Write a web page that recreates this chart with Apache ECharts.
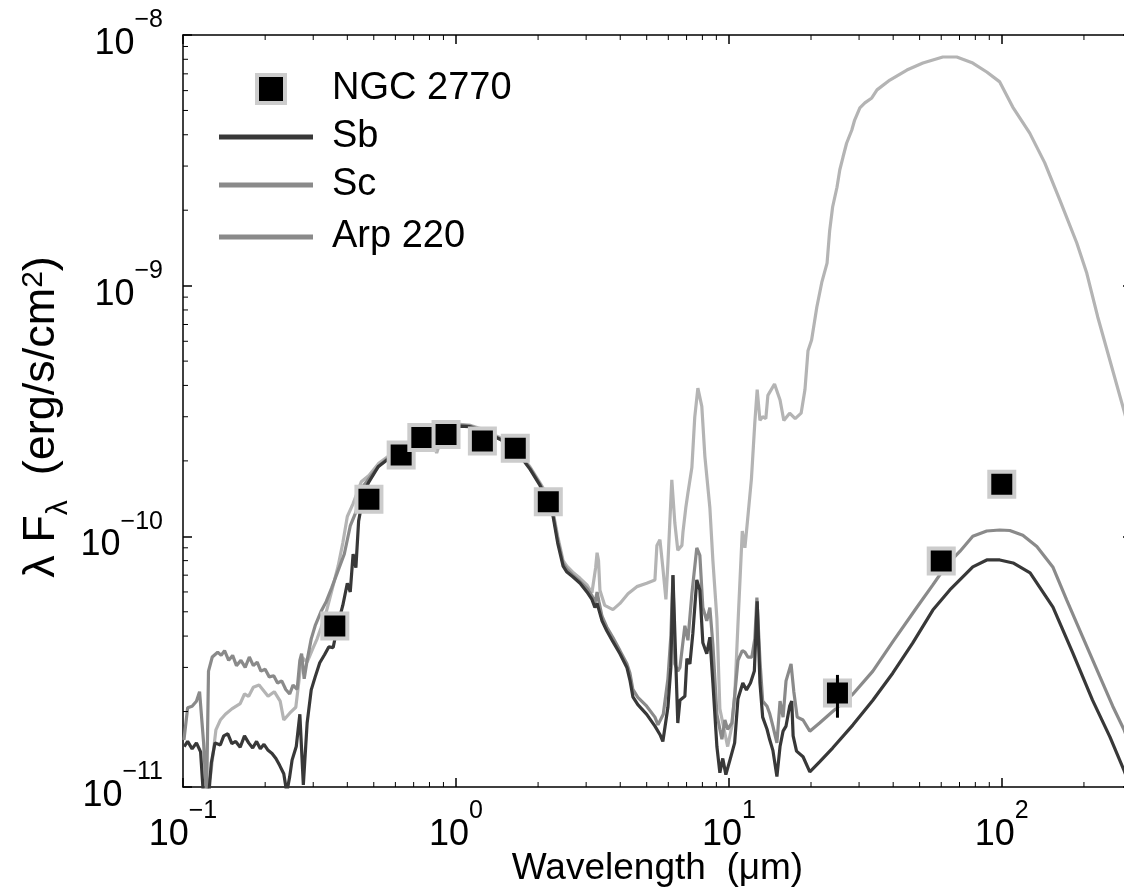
<!DOCTYPE html>
<html>
<head>
<meta charset="utf-8">
<script src="https://cdn.jsdelivr.net/npm/echarts@6/dist/echarts.min.js"></script>
<style>html,body{margin:0;padding:0;background:#fff}#chart{width:1124px;height:888px}</style>
</head>
<body>
<div id="chart"></div>
<script>
// ---------------- data ----------------
const xRange = [0.1, 300];
const yRange = [1e-11, 1e-8];

const ngcLam  = [0.36, 0.48, 0.63, 0.75, 0.92, 1.25, 1.65, 2.18, 25, 60, 100];
const ngcFlux = [4.39e-11, 1.405e-10, 2.11e-10, 2.48e-10, 2.55e-10, 2.40e-10, 2.245e-10, 1.374e-10, 2.37e-11, 7.97e-11, 1.613e-10];
const ngcErrLow  = [4.39e-11, 1.405e-10, 2.11e-10, 2.48e-10, 2.55e-10, 2.40e-10, 2.245e-10, 1.374e-10, 1.89e-11, 7.97e-11, 1.613e-10];
const ngcErrHigh = [4.39e-11, 1.405e-10, 2.11e-10, 2.48e-10, 2.55e-10, 2.40e-10, 2.245e-10, 1.374e-10, 2.80e-11, 7.97e-11, 1.613e-10];

const sbSpectrum = [
[0.101,1.45e-11],[0.104,1.52e-11],[0.108,1.42e-11],[0.112,1.50e-11],[0.116,1.38e-11],[0.119,0.9e-11],[0.124,0.9e-11],[0.127,1.25e-11],
[0.131,1.50e-11],[0.137,1.47e-11],[0.141,1.60e-11],[0.146,1.63e-11],[0.151,1.49e-11],[0.156,1.52e-11],[0.162,1.44e-11],[0.168,1.60e-11],
[0.174,1.50e-11],[0.180,1.43e-11],[0.186,1.52e-11],[0.192,1.42e-11],[0.198,1.48e-11],[0.205,1.40e-11],[0.212,1.36e-11],[0.219,1.30e-11],
[0.226,1.22e-11],[0.234,1.13e-11],[0.240,0.95e-11],[0.246,1.10e-11],[0.251,1.28e-11],[0.260,1.45e-11],[0.268,1.95e-11],[0.276,1.02e-11],
[0.285,1.80e-11],[0.295,2.44e-11],[0.305,2.75e-11],[0.317,3.13e-11],[0.330,3.37e-11],[0.342,3.62e-11],[0.355,3.6e-11],[0.37,4.5e-11],
[0.385,5.3e-11],[0.40,6.5e-11],[0.41,6.0e-11],[0.42,8.5e-11],[0.43,7.5e-11],[0.44,11.5e-11],[0.46,15.0e-11],[0.48,16.5e-11],
[0.52,19.0e-11],[0.57,20.5e-11],[0.62,21.5e-11],[0.68,23.0e-11],[0.74,24.0e-11],[0.80,25.0e-11],[0.87,26.0e-11],[0.95,26.8e-11],
[1.03,27.5e-11],[1.12,27.4e-11],[1.22,26.6e-11],[1.33,25.5e-11],[1.45,24.4e-11],[1.58,22.9e-11],[1.72,20.9e-11],[1.87,18.5e-11],
[2.03,16.0e-11],[2.17,13.9e-11],[2.27,12.0e-11],[2.36,9.4e-11],[2.47,7.6e-11],[2.55,7.2e-11],[2.68,6.9e-11],[2.85,6.5e-11],
[3.02,6.0e-11],[3.15,5.6e-11],[3.23,5.2e-11],[3.29,5.4e-11],[3.43,4.6e-11],[3.57,4.2e-11],[3.76,3.8e-11],[3.99,3.4e-11],
[4.23,3.0e-11],[4.34,2.67e-11],[4.45,2.29e-11],[4.64,2.13e-11],[5.0,1.95e-11],[5.36,1.75e-11],[5.59,1.62e-11],[5.73,1.52e-11],
[5.98,2.08e-11],[6.13,3.0e-11],[6.24,7.0e-11],[6.5,1.8e-11],[6.62,2.22e-11],[6.9,2.3e-11],[7.02,3.25e-11],[7.2,3.1e-11],
[7.38,4.1e-11],[7.63,6.7e-11],[7.83,6.1e-11],[8.03,3.76e-11],[8.3,3.4e-11],[8.52,3.96e-11],[8.74,2.6e-11],[9.04,1.45e-11],
[9.27,1.14e-11],[9.5,1.3e-11],[9.75,1.12e-11],[10.09,1.28e-11],[10.5,1.50e-11],[10.8,2.25e-11],[11.25,2.6e-11],[11.6,2.44e-11],
[12.0,2.6e-11],[12.4,2.9e-11],[12.7,5.5e-11],[13.0,2.6e-11],[13.3,1.9e-11],[13.8,1.7e-11],[14.1,1.55e-11],[14.5,1.4e-11],
[15.0,1.1e-11],[15.4,1.45e-11],[15.8,1.67e-11],[16.2,1.75e-11],[16.7,2.1e-11],[17.0,2.2e-11],[17.2,1.6e-11],[17.7,1.39e-11],
[18.7,1.32e-11],[19.8,1.15e-11],[21.5,1.26e-11],[24.0,1.43e-11],[28.5,1.77e-11],[33.7,2.22e-11],[39.9,2.85e-11],[47.2,3.76e-11],
[55.9,5.08e-11],[64.5,6.11e-11],[78.3,7.55e-11],[88.1,8.05e-11],[98.3,8.05e-11],[110,7.83e-11],[127,7.15e-11],[154,5.22e-11],
[182,3.43e-11],[215,2.22e-11],[249,1.585e-11],[280,1.17e-11],[300,0.97e-11]
];

const scSpectrum = [
[0.1008,1.54e-11],[0.104,2.07e-11],[0.108,2.1e-11],[0.112,2.2e-11],[0.115,2.4e-11],[0.119,1.5e-11],[0.122,0.9e-11],[0.124,2.9e-11],
[0.128,3.3e-11],[0.134,3.45e-11],[0.138,3.35e-11],[0.142,3.5e-11],[0.147,3.2e-11],[0.152,3.35e-11],[0.157,3.05e-11],[0.163,3.2e-11],
[0.169,3.0e-11],[0.175,3.3e-11],[0.181,3.05e-11],[0.187,3.15e-11],[0.193,2.9e-11],[0.2,2.95e-11],[0.207,2.75e-11],[0.215,2.78e-11],
[0.222,2.6e-11],[0.23,2.65e-11],[0.238,2.45e-11],[0.246,2.35e-11],[0.253,2.55e-11],[0.262,2.45e-11],[0.268,3.2e-11],[0.272,3.4e-11],
[0.278,2.7e-11],[0.285,3.2e-11],[0.295,3.9e-11],[0.305,4.4e-11],[0.32,5.0e-11],[0.335,5.5e-11],[0.35,6.2e-11],[0.37,7.3e-11],
[0.39,8.5e-11],[0.41,11.0e-11],[0.43,12.5e-11],[0.45,15.5e-11],[0.48,17.0e-11],[0.52,19.0e-11],[0.57,20.8e-11],[0.62,22.0e-11],
[0.68,23.3e-11],[0.74,24.3e-11],[0.80,25.3e-11],[0.87,26.3e-11],[0.95,27.2e-11],[1.03,27.8e-11],[1.12,27.6e-11],[1.22,26.8e-11],
[1.33,25.6e-11],[1.45,24.5e-11],[1.58,23.0e-11],[1.72,21.0e-11],[1.87,18.7e-11],[2.03,16.2e-11],[2.17,14.2e-11],[2.27,12.3e-11],
[2.36,9.7e-11],[2.47,7.8e-11],[2.55,7.4e-11],[2.68,7.0e-11],[2.85,6.6e-11],[3.02,6.2e-11],[3.15,5.8e-11],[3.23,5.4e-11],
[3.29,6.0e-11],[3.34,5.5e-11],[3.43,4.8e-11],[3.57,4.35e-11],[3.76,3.95e-11],[3.99,3.5e-11],[4.23,3.1e-11],[4.34,2.85e-11],
[4.45,2.45e-11],[4.64,2.28e-11],[5.0,2.1e-11],[5.36,1.9e-11],[5.5,1.77e-11],[5.75,1.95e-11],[5.98,2.7e-11],[6.13,4.0e-11],
[6.24,7.0e-11],[6.34,3.1e-11],[6.5,2.9e-11],[6.62,3.0e-11],[6.9,4.4e-11],[7.08,3.85e-11],[7.32,5.9e-11],[7.63,9.0e-11],
[7.83,8.4e-11],[8.03,5.2e-11],[8.3,4.6e-11],[8.52,5.2e-11],[8.74,3.7e-11],[9.04,1.95e-11],[9.27,1.7e-11],[9.43,1.55e-11],
[9.67,1.85e-11],[9.9,1.7e-11],[10.26,1.8e-11],[10.5,2.3e-11],[10.8,3.2e-11],[11.2,3.5e-11],[11.45,3.45e-11],[11.74,3.3e-11],
[12.14,3.3e-11],[12.45,3.9e-11],[12.67,5.7e-11],[13.0,3.2e-11],[13.3,2.2e-11],[13.8,2.1e-11],[14.1,1.97e-11],[14.5,1.75e-11],
[15.0,1.5e-11],[15.4,2.2e-11],[15.8,1.9e-11],[16.2,2.65e-11],[16.9,3.1e-11],[17.3,2.4e-11],[17.8,1.9e-11],[18.7,1.85e-11],
[19.8,1.67e-11],[21.5,1.8e-11],[24.0,2.0e-11],[28.5,2.35e-11],[33.7,2.9e-11],[39.9,3.8e-11],[48.8,5.2e-11],[55.9,6.4e-11],
[62.9,7.7e-11],[70.2,8.7e-11],[78.3,10.0e-11],[88.1,10.5e-11],[98.3,10.6e-11],[107,10.55e-11],[119.4,10.1e-11],[134.4,9.1e-11],
[153.8,7.55e-11],[173,5.57e-11],[198,3.96e-11],[228.6,2.76e-11],[255,2.1e-11],[280,1.7e-11],[300,1.4e-11]
];

const arpSpectrum = [
[0.1,0.9e-11],[0.12,0.9e-11],[0.126,1.1e-11],[0.132,1.69e-11],[0.137,1.85e-11],[0.143,1.95e-11],[0.151,2.05e-11],[0.162,2.15e-11],
[0.168,2.35e-11],[0.174,2.3e-11],[0.181,2.5e-11],[0.19,2.55e-11],[0.205,2.3e-11],[0.216,2.4e-11],[0.227,2.2e-11],[0.234,1.85e-11],
[0.246,1.97e-11],[0.259,2.08e-11],[0.266,2.65e-11],[0.272,3.3e-11],[0.285,3.15e-11],[0.3,3.6e-11],[0.31,3.9e-11],[0.32,4.3e-11],
[0.335,5.0e-11],[0.35,6.0e-11],[0.37,7.6e-11],[0.385,9.4e-11],[0.40,12.0e-11],[0.42,13.5e-11],[0.45,16.5e-11],[0.48,17.5e-11],
[0.52,19.5e-11],[0.57,21.0e-11],[0.62,22.0e-11],[0.68,23.5e-11],[0.74,24.5e-11],[0.80,25.5e-11],[0.85,21.5e-11],[0.9,26.0e-11],
[0.95,27.3e-11],[1.03,28.0e-11],[1.12,27.8e-11],[1.22,27.0e-11],[1.33,25.8e-11],[1.45,24.8e-11],[1.58,23.3e-11],[1.72,21.2e-11],
[1.87,18.9e-11],[2.03,16.4e-11],[2.17,14.5e-11],[2.27,12.5e-11],[2.36,10.0e-11],[2.47,8.0e-11],[2.55,7.6e-11],[2.68,7.2e-11],
[2.85,6.8e-11],[3.02,6.4e-11],[3.15,5.95e-11],[3.25,7.5e-11],[3.29,8.6e-11],[3.33,8.0e-11],[3.37,6.1e-11],[3.51,5.3e-11],
[3.76,5.1e-11],[3.99,5.4e-11],[4.27,5.9e-11],[4.6,6.3e-11],[5.0,6.5e-11],[5.36,6.7e-11],[5.45,9.2e-11],[5.59,9.7e-11],
[5.73,7.5e-11],[5.88,5.6e-11],[5.98,7.8e-11],[6.18,16.8e-11],[6.34,11.3e-11],[6.5,8.8e-11],[6.73,9.2e-11],[6.79,10.4e-11],
[6.96,13.1e-11],[7.08,14.9e-11],[7.32,18.8e-11],[7.5,29.9e-11],[7.7,39.0e-11],[7.96,33.0e-11],[8.17,20.8e-11],[8.52,13.0e-11],
[8.74,8.0e-11],[9.04,4.7e-11],[9.27,2.05e-11],[9.5,1.8e-11],[9.9,1.45e-11],[10.26,1.75e-11],[10.52,2.37e-11],[10.85,5.0e-11],
[11.2,10.5e-11],[11.45,9.0e-11],[11.7,11.5e-11],[12.1,17.0e-11],[12.45,28.5e-11],[12.7,38.5e-11],[13.0,29.0e-11],[13.3,30.0e-11],
[13.66,29.5e-11],[13.9,36.5e-11],[14.7,40.5e-11],[15.4,35.0e-11],[15.9,29.0e-11],[16.7,31.0e-11],[17.5,29.5e-11],[18.4,31.0e-11],
[19.0,38.4e-11],[19.5,55.0e-11],[20.1,60.7e-11],[21.0,82e-11],[21.9,103e-11],[22.9,123e-11],[23.4,165e-11],[24.0,206e-11],
[24.9,247e-11],[25.5,290e-11],[26.2,326e-11],[27.0,370e-11],[28.2,417e-11],[28.9,458e-11],[30.2,512e-11],[31.5,536e-11],
[33.4,561e-11],[34.9,604e-11],[38.9,661e-11],[44.9,725e-11],[51.4,773e-11],[60.8,817e-11],[68.4,817e-11],[78.3,773e-11],
[88.1,712e-11],[98.3,650e-11],[109.7,516e-11],[126.6,406e-11],[143.7,309e-11],[163.1,220e-11],[188.3,148e-11],[204.9,112e-11],
[224.7,75e-11],[280,31.9e-11],[300,24.2e-11]
];

const xMinorTicks = [0.2,0.3,0.4,0.5,0.6,0.7,0.8,0.9,2,3,4,5,6,7,8,9,20,30,40,50,60,70,80,90,200,300];
const yMinorTicks = [2e-11,3e-11,4e-11,5e-11,6e-11,7e-11,8e-11,9e-11,2e-10,3e-10,4e-10,5e-10,6e-10,7e-10,8e-10,9e-10,2e-9,3e-9,4e-9,5e-9,6e-9,7e-9,8e-9,9e-9];

const seriesNames = ['NGC 2770', 'Sb', 'Sc', 'Arp 220'];
const xTitle = 'Wavelength  (\u03bcm)';

// ---------------- chart ----------------
const FONT = '"Liberation Sans", Arial, Helvetica, sans-serif';
const chart = echarts.init(document.getElementById('chart'), null, {renderer: 'canvas'});

function powLabel(v) {
  const lg = Math.log10(v);
  const e = Math.round(lg);
  if (Math.abs(lg - e) > 1e-6) return '';
  return '{z|\u200b}{b|10}{s|' + (e < 0 ? '\u2212' : '') + Math.abs(e) + '}';
}
const tickRich = {
  z: {fontSize: 10, fontFamily: FONT, lineHeight: 54, height: 54, width: 0},
  b: {fontSize: 36, fontFamily: FONT, color: '#000', lineHeight: 36, height: 36, verticalAlign: 'bottom'},
  s: {fontSize: 25, fontFamily: FONT, color: '#000', lineHeight: 25, height: 25, verticalAlign: 'top'}
};
const axisLineStyle = {color: '#000', width: 1.5};

function minorTickRenderer(dir) {
  return function (params, api) {
    const cs = params.coordSys;
    const p = api.coord([api.value(0), api.value(1)]);
    const st = {stroke: '#000', lineWidth: 1};
    if (dir === 'x') {
      const x = p[0];
      return {type: 'group', children: [
        {type: 'line', shape: {x1: x, y1: cs.y + cs.height, x2: x, y2: cs.y + cs.height - 5}, style: st},
        {type: 'line', shape: {x1: x, y1: cs.y, x2: x, y2: cs.y + 5}, style: st}
      ]};
    }
    const y = p[1];
    return {type: 'group', children: [
      {type: 'line', shape: {x1: cs.x, y1: y, x2: cs.x + 5, y2: y}, style: st},
      {type: 'line', shape: {x1: cs.x + cs.width, y1: y, x2: cs.x + cs.width - 5, y2: y}, style: st}
    ]};
  };
}

const legendText = {fontSize: 38, fontFamily: FONT, color: '#000', lineHeight: 40};
const LINE_ICON = 'path://M0 0H94V5H0Z';

function lineLegend(name, color, top) {
  return {data: [{name: name, icon: LINE_ICON, itemStyle: {color: color, borderWidth: 0, opacity: 1}}],
    left: 219, top: top, padding: 0, itemWidth: 94, itemHeight: 28, symbolKeepAspect: true, selectedMode: false,
    textStyle: Object.assign({padding: [0, 0, 0, 14]}, legendText)};
}

const option = {
  backgroundColor: '#fff',
  animation: false,
  grid: {left: 183, right: -8, top: 35, bottom: 101, containLabel: false, outerBoundsMode: 'none'},
  legend: [
    {data: [{name: seriesNames[0], icon: 'path://M0 0H10V10H0Z', itemStyle: {color: '#000', borderColor: '#cccccc', borderWidth: 4}}],
     left: 255, top: 69, padding: 0, itemWidth: 94, itemHeight: 28, symbolKeepAspect: true, selectedMode: false,
     textStyle: Object.assign({padding: [0, 0, 0, 9]}, legendText)},
    lineLegend(seriesNames[1], '#383838', 117),
    lineLegend(seriesNames[2], '#8a8a8a', 165),
    lineLegend(seriesNames[3], '#8a8a8a', 217)
  ],
  xAxis: [
    {type: 'log', logBase: 10, min: xRange[0], max: xRange[1], position: 'bottom',
     name: xTitle, nameLocation: 'middle', nameGap: 62, nameMoveOverlap: false,
     nameTextStyle: {fontSize: 37, fontFamily: FONT, color: '#000', lineHeight: 40},
     axisLine: {show: true, lineStyle: axisLineStyle},
     axisTick: {show: true, inside: true, length: 9, lineStyle: axisLineStyle},
     axisLabel: {show: true, margin: 12, formatter: powLabel, rich: tickRich, hideOverlap: false, showMinLabel: true, showMaxLabel: true},
     splitLine: {show: false}, minorTick: {show: false}},
    {type: 'log', logBase: 10, min: xRange[0], max: xRange[1], position: 'top',
     axisLine: {show: true, lineStyle: axisLineStyle},
     axisTick: {show: true, inside: true, length: 9, lineStyle: axisLineStyle},
     axisLabel: {show: false}, splitLine: {show: false}}
  ],
  yAxis: [
    {type: 'log', logBase: 10, min: yRange[0], max: yRange[1], position: 'left',
     name: '{m|\u03bb F}{sub|\u03bb}{m|  (erg/s/cm}{sup|2}{m|)}', nameLocation: 'middle', nameRotate: 90, nameGap: 119, nameMoveOverlap: false,
     nameTextStyle: {fontSize: 45, fontFamily: FONT, color: '#000', padding: [0, 12, 0, 0], rich: {
       m: {fontSize: 45, fontFamily: FONT, color: '#000', lineHeight: 45, padding: [8, 0, 8, 0]},
       sub: {fontSize: 30, fontFamily: FONT, color: '#000', lineHeight: 30, padding: [25, 0, 0, 0], verticalAlign: 'top'},
       sup: {fontSize: 30, fontFamily: FONT, color: '#000', lineHeight: 30, verticalAlign: 'top'}
     }},
     axisLine: {show: true, lineStyle: axisLineStyle},
     axisTick: {show: true, inside: true, length: 9, lineStyle: axisLineStyle},
     axisLabel: {show: true, margin: 20, formatter: powLabel, rich: tickRich, hideOverlap: false, showMinLabel: true, showMaxLabel: true},
     splitLine: {show: false}},
    {type: 'log', logBase: 10, min: yRange[0], max: yRange[1], position: 'right',
     axisLine: {show: true, lineStyle: axisLineStyle},
     axisTick: {show: true, inside: true, length: 9, lineStyle: axisLineStyle},
     axisLabel: {show: false}, splitLine: {show: false}}
  ],
  series: [
    {name: seriesNames[3], type: 'line', data: arpSpectrum, symbol: 'none', showSymbol: false, clip: true,
     lineStyle: {color: '#b4b4b4', width: 3.2}, itemStyle: {color: '#b4b4b4'}, z: 2},
    {name: seriesNames[2], type: 'line', data: scSpectrum, symbol: 'none', showSymbol: false, clip: true,
     lineStyle: {color: '#8a8a8a', width: 3.2}, itemStyle: {color: '#8a8a8a'}, z: 2},
    {name: seriesNames[1], type: 'line', data: sbSpectrum, symbol: 'none', showSymbol: false, clip: true,
     lineStyle: {color: '#383838', width: 3.2}, itemStyle: {color: '#383838'}, z: 2},
    {name: seriesNames[0], type: 'scatter', data: ngcLam.map((l, i) => [l, ngcFlux[i]]),
     symbol: 'rect', symbolSize: 25, itemStyle: {color: '#000', borderColor: '#cccccc', borderWidth: 4, opacity: 1}, z: 4},
    {type: 'custom', name: 'errbar', z: 5, silent: true,
     data: ngcLam.map((l, i) => [l, ngcErrLow[i], ngcErrHigh[i]]),
     encode: {x: 0, y: [1, 2]},
     renderItem: function (params, api) {
       const p1 = api.coord([api.value(0), api.value(1)]);
       const p2 = api.coord([api.value(0), api.value(2)]);
       return {type: 'line', shape: {x1: p1[0], y1: p1[1], x2: p2[0], y2: p2[1]}, style: {stroke: '#000', lineWidth: 3}};
     }},
    {type: 'custom', name: 'xminor', z: 6, silent: true, data: xMinorTicks.map(v => [v, yRange[0]]), renderItem: minorTickRenderer('x')},
    {type: 'custom', name: 'yminor', z: 6, silent: true, data: yMinorTicks.map(v => [xRange[0], v]), renderItem: minorTickRenderer('y')}
  ]
};
chart.setOption(option);
</script>
</body>
</html>
